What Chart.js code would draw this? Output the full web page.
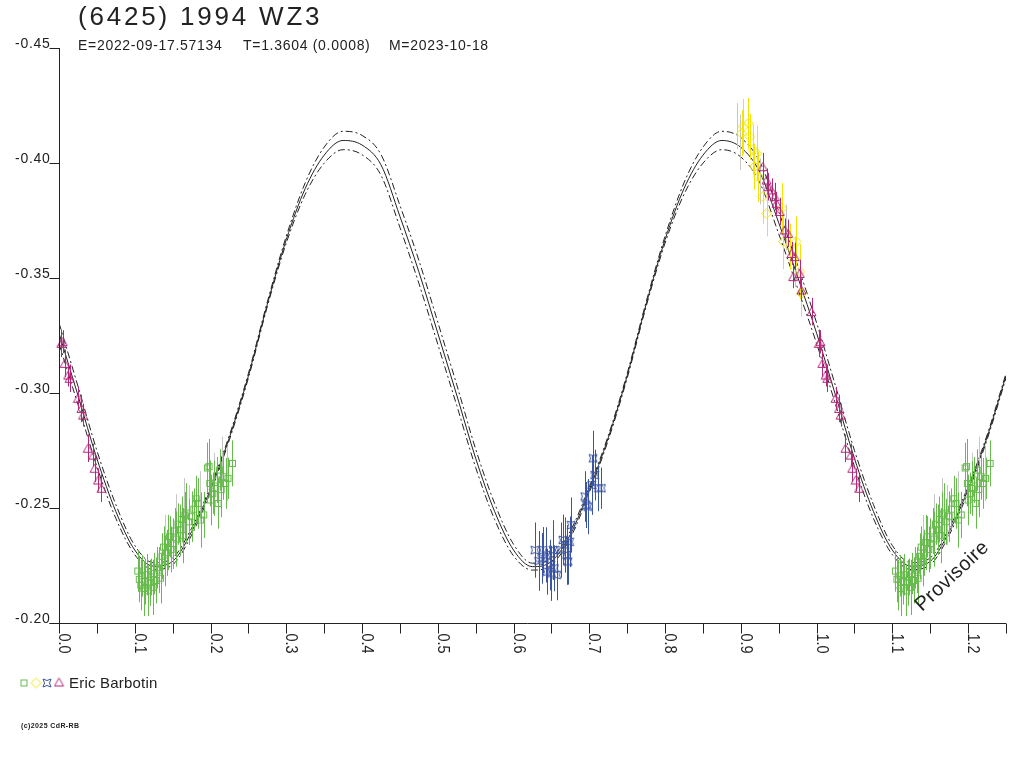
<!DOCTYPE html>
<html>
<head>
<meta charset="utf-8">
<title>(6425) 1994 WZ3</title>
<script src="https://cdn.jsdelivr.net/npm/chart.js@4.4.1/dist/chart.umd.min.js"></script>
<style>
    html, body { margin: 0; padding: 0; background: #ffffff; }
    #wrap { width: 1024px; height: 768px; }
</style>
</head>
<body>
<div id="wrap"><canvas id="lightcurve" width="1024" height="768"></canvas></div>
<script>
// ===============================
// DATA
// ===============================

const TITLE = "(6425) 1994 WZ3";

const SUBTITLE_PARTS = [
    "E=2022-09-17.57134",
    "T=1.3604 (0.0008)",
    "M=2023-10-18"
];

const OBSERVER = "Eric Barbotin";

const Y_TICKS = [-0.45, -0.40, -0.35, -0.30, -0.25, -0.20];

const Y_TICK_LABELS = ["-0.45", "-0.40", "-0.35", "-0.30", "-0.25", "-0.20"];

const X_MAJOR_TICKS = [0.0, 0.1, 0.2, 0.3, 0.4, 0.5, 0.6, 0.7, 0.8, 0.9, 1.0, 1.1, 1.2];

const X_MAJOR_LABELS = ["0.0", "0.1", "0.2", "0.3", "0.4", "0.5", "0.6", "0.7", "0.8", "0.9", "1.0", "1.1", "1.2"];

const X_MINOR_TICKS = [0.05, 0.15, 0.25, 0.35, 0.45, 0.55, 0.65, 0.75, 0.85, 0.95, 1.05, 1.15, 1.25];

// model curve (phase grid + three curves)
const MODEL_PHASE = [
    0.000, 0.025, 0.050, 0.075, 0.100, 0.125, 0.150, 0.175, 0.200, 0.225,
    0.250, 0.275, 0.300, 0.325, 0.350, 0.375, 0.400, 0.425, 0.450, 0.475,
    0.500, 0.525, 0.550, 0.575, 0.600, 0.625, 0.650, 0.675, 0.700, 0.725,
    0.750, 0.775, 0.800, 0.825, 0.850, 0.875, 0.900, 0.925, 0.950, 0.975,
    1.000, 1.025, 1.050, 1.075, 1.100, 1.125, 1.150, 1.175, 1.200, 1.225,
    1.250
];

const MODEL_MID = [
    -0.3260, -0.2990, -0.2715, -0.2485, -0.2317, -0.2247, -0.2268, -0.2397, -0.2582, -0.2807,
    -0.3075, -0.3386, -0.3667, -0.3889, -0.4034, -0.4098, -0.4078, -0.3992, -0.3768, -0.3527,
    -0.3260, -0.2991, -0.2716, -0.2485, -0.2317, -0.2245, -0.2268, -0.2385, -0.2580, -0.2805,
    -0.3075, -0.3386, -0.3667, -0.3889, -0.4034, -0.4098, -0.4068, -0.3960, -0.3740, -0.3505,
    -0.3260, -0.2990, -0.2715, -0.2485, -0.2317, -0.2247, -0.2268, -0.2397, -0.2582, -0.2807,
    -0.3075
];

const MODEL_HIGH = [
    -0.3305, -0.3030, -0.2750, -0.2515, -0.2337, -0.2262, -0.2283, -0.2412, -0.2594, -0.2817,
    -0.3085, -0.3396, -0.3682, -0.3914, -0.4069, -0.4138, -0.4120, -0.4037, -0.3816, -0.3577,
    -0.3308, -0.3036, -0.2756, -0.2520, -0.2342, -0.2260, -0.2283, -0.2400, -0.2592, -0.2815,
    -0.3085, -0.3396, -0.3682, -0.3914, -0.4069, -0.4138, -0.4110, -0.4005, -0.3788, -0.3555,
    -0.3305, -0.3030, -0.2750, -0.2515, -0.2337, -0.2262, -0.2283, -0.2412, -0.2594, -0.2817,
    -0.3085
];

const MODEL_LOW = [
    -0.3215, -0.2950, -0.2680, -0.2455, -0.2297, -0.2232, -0.2253, -0.2382, -0.2570, -0.2797,
    -0.3065, -0.3376, -0.3652, -0.3864, -0.3999, -0.4058, -0.4036, -0.3947, -0.3720, -0.3477,
    -0.3212, -0.2946, -0.2676, -0.2450, -0.2292, -0.2230, -0.2253, -0.2370, -0.2568, -0.2795,
    -0.3065, -0.3376, -0.3652, -0.3864, -0.3999, -0.4058, -0.4026, -0.3915, -0.3692, -0.3455,
    -0.3215, -0.2950, -0.2680, -0.2455, -0.2297, -0.2232, -0.2253, -0.2382, -0.2570, -0.2797,
    -0.3065
];

// session 1 (green squares)
const GREEN_PHASE = [
    0.104, 0.106, 0.108, 0.110, 0.112, 0.114, 0.116, 0.118, 0.120, 0.122,
    0.124, 0.126, 0.128, 0.130, 0.132, 0.134, 0.136, 0.138, 0.140, 0.142,
    0.144, 0.146, 0.148, 0.150, 0.153, 0.155, 0.157, 0.160, 0.162, 0.164,
    0.166, 0.168, 0.171, 0.175, 0.178, 0.181, 0.184, 0.187, 0.191, 0.196,
    0.198, 0.199, 0.200, 0.203, 0.205, 0.208, 0.210, 0.212, 0.214, 0.217,
    0.220, 0.223, 0.229
];

const GREEN_MAG = [
    -0.2226, -0.2190, -0.2165, -0.2205, -0.2150, -0.2180, -0.2210, -0.2140, -0.2175, -0.2200,
    -0.2155, -0.2215, -0.2185, -0.2240, -0.2230, -0.2195, -0.2290, -0.2330, -0.2270, -0.2305,
    -0.2350, -0.2375, -0.2320, -0.2345, -0.2400, -0.2365, -0.2430, -0.2405, -0.2450, -0.2380,
    -0.2470, -0.2478, -0.2440, -0.2462, -0.2495, -0.2540, -0.2520, -0.2448, -0.2470, -0.2674,
    -0.2680, -0.2607, -0.2535, -0.2564, -0.2585, -0.2622, -0.2520, -0.2665, -0.2580, -0.2636,
    -0.2607, -0.2629, -0.2694
];

const GREEN_ERR = [
    0.009, 0.010, 0.011, 0.009, 0.012, 0.010, 0.009, 0.011, 0.010, 0.008,
    0.012, 0.009, 0.010, 0.009, 0.010, 0.011, 0.010, 0.009, 0.011, 0.010,
    0.012, 0.009, 0.010, 0.011, 0.010, 0.012, 0.009, 0.011, 0.010, 0.012,
    0.010, 0.013, 0.010, 0.011, 0.009, 0.010, 0.011, 0.012, 0.010, 0.011,
    0.012, 0.010, 0.011, 0.009, 0.012, 0.010, 0.011, 0.009, 0.012, 0.010,
    0.011, 0.009, 0.010
];

// session 2 (yellow diamonds)
const YELLOW_PHASE = [
    0.901, 0.903, 0.910, 0.912, 0.916, 0.918, 0.921, 0.923, 0.929, 0.934,
    0.954, 0.956, 0.965, 0.973, 0.978, 0.980
];

const YELLOW_MAG = [
    -0.4129, -0.4158, -0.4173, -0.4114, -0.4057, -0.3984, -0.4042, -0.3940, -0.3854, -0.3781,
    -0.3803, -0.3658, -0.3636, -0.3658, -0.3527, -0.3433
];

const YELLOW_ERR = [
    0.010, 0.012, 0.011, 0.010, 0.011, 0.010, 0.012, 0.011, 0.012, 0.010,
    0.011, 0.012, 0.010, 0.011, 0.012, 0.010
];

// session 3 (blue stars)
const BLUE_PHASE = [
    0.628, 0.633, 0.637, 0.639, 0.643, 0.644, 0.648, 0.650, 0.652, 0.654,
    0.657, 0.663, 0.665, 0.668, 0.670, 0.672, 0.674, 0.676, 0.694, 0.696,
    0.698, 0.703, 0.705, 0.707, 0.712, 0.716
];

const BLUE_MAG = [
    -0.2317, -0.2270, -0.2281, -0.2317, -0.2296, -0.2223, -0.2252, -0.2216, -0.2317, -0.2238,
    -0.2209, -0.2317, -0.2361, -0.2339, -0.2296, -0.2267, -0.2353, -0.2426, -0.2550, -0.2513,
    -0.2506, -0.2600, -0.2716, -0.2643, -0.2586, -0.2586
];

const BLUE_ERR = [
    0.012, 0.013, 0.011, 0.010, 0.012, 0.010, 0.011, 0.012, 0.013, 0.010,
    0.011, 0.012, 0.011, 0.012, 0.013, 0.010, 0.011, 0.012, 0.011, 0.010,
    0.012, 0.013, 0.012, 0.011, 0.010, 0.009
];

// session 4 (magenta triangles)
const MAGENTA_PHASE = [
    0.003, 0.005, 0.0075, 0.012, 0.014, 0.025, 0.0296, 0.0317, 0.038, 0.045,
    0.047, 0.0515, 0.056, 0.929, 0.934, 0.936, 0.9405, 0.945, 0.947, 0.9514,
    0.958, 0.9624, 0.967, 0.969, 0.9712, 0.9778, 0.980, 0.9933
];

const MAGENTA_MAG = [
    -0.3216, -0.3223, -0.3129, -0.3078, -0.3064, -0.2977, -0.2933, -0.2904, -0.2760, -0.2730,
    -0.2673, -0.2622, -0.2586, -0.3984, -0.3926, -0.3897, -0.3883, -0.3854, -0.3825, -0.3789,
    -0.3709, -0.3694, -0.3607, -0.3506, -0.3593, -0.3520, -0.3448, -0.3354
];

const MAGENTA_ERR = [
    0.006, 0.005, 0.006, 0.005, 0.006, 0.005, 0.006, 0.005, 0.006, 0.005,
    0.006, 0.005, 0.006, 0.006, 0.005, 0.006, 0.005, 0.006, 0.005, 0.006,
    0.005, 0.006, 0.005, 0.005, 0.006, 0.006, 0.005, 0.006
];

// light grey error bars
const GREY_PHASE = [
    0.140, 0.155, 0.165, 0.172, 0.186, 0.205, 0.215, 0.222, 0.895, 0.899,
    0.925, 0.960, 0.972
];

const GREY_MAG = [
    -0.2360, -0.2440, -0.2510, -0.2470, -0.2550, -0.2620, -0.2700, -0.2650, -0.4160, -0.4090,
    -0.3920, -0.3720, -0.3570
];

const GREY_ERR = [
    0.011, 0.012, 0.012, 0.013, 0.011, 0.012, 0.011, 0.012, 0.010, 0.012,
    0.010, 0.010, 0.011
];

// ===============================
// COLOURS
// ===============================

const INK = "#222222";
const GREEN = "#66bb4c";
const YELLOW = "#f2e400";
const BLUE = "#3a55a4";
const MAGENTA = "#b4287a";
const GREY = "#c6c6c6";

const FONT = "'Liberation Sans', Arial, sans-serif";

// ===============================
// HELPERS
// ===============================

// points before phase 0.25 are shown a second time after 1.0
function foldPoints(phases, mags, errs) {

    const pts = [];

    phases.forEach((p, i) => {

        pts.push({ x: p, y: mags[i], e: errs[i] });

        if (p + 1 <= 1.25) {
            pts.push({ x: p + 1, y: mags[i], e: errs[i] });
        }
    });

    return pts;
}

function curvePoints(values) {

    return MODEL_PHASE.map((p, i) => ({ x: p, y: values[i] }));
}

function makeMarker(size, draw) {

    const c = document.createElement("canvas");

    c.width = size;
    c.height = size;

    const g = c.getContext("2d");

    g.lineWidth = 1;

    draw(g);

    return c;
}

const squareMarker = makeMarker(9, g => {
    g.strokeStyle = GREEN;
    g.strokeRect(1.5, 1.5, 6, 6);
});

const diamondMarker = makeMarker(13, g => {
    g.strokeStyle = YELLOW;
    g.beginPath();
    g.moveTo(6.5, 1.5);
    g.lineTo(11.5, 6.5);
    g.lineTo(6.5, 11.5);
    g.lineTo(1.5, 6.5);
    g.closePath();
    g.stroke();
});

const starMarker = makeMarker(10, g => {
    g.strokeStyle = BLUE;
    g.beginPath();
    g.moveTo(1, 1);
    g.quadraticCurveTo(5, 4, 9, 1);
    g.quadraticCurveTo(6, 5, 9, 9);
    g.quadraticCurveTo(5, 6, 1, 9);
    g.quadraticCurveTo(4, 5, 1, 1);
    g.closePath();
    g.stroke();
});

const triangleMarker = makeMarker(11, g => {
    g.strokeStyle = MAGENTA;
    g.beginPath();
    g.moveTo(5.5, 1.5);
    g.lineTo(10, 9.5);
    g.lineTo(1, 9.5);
    g.closePath();
    g.stroke();
});

function spacedText(ctx, text, x, y, spacing) {

    if ("letterSpacing" in ctx) {
        ctx.letterSpacing = spacing + "px";
    }

    ctx.fillText(text, x, y);

    if ("letterSpacing" in ctx) {
        ctx.letterSpacing = "0px";
    }
}

// =================================
// ERROR BARS (drawn under each set)
// =================================

const errorBars = {

    id: "errorBars",

    beforeDatasetDraw(chart, args) {

        const ds = chart.data.datasets[args.index];

        if (!ds.errColor) return;

        const ctx = chart.ctx;
        const xs = chart.scales.x;
        const ys = chart.scales.y;

        ctx.save();
        ctx.strokeStyle = ds.errColor;
        ctx.lineWidth = 1;
        ctx.beginPath();

        ds.data.forEach(pt => {

            const px = Math.round(xs.getPixelForValue(pt.x)) + 0.5;

            ctx.moveTo(px, ys.getPixelForValue(pt.y - pt.e));
            ctx.lineTo(px, ys.getPixelForValue(pt.y + pt.e));
        });

        ctx.stroke();
        ctx.restore();
    }
};

// =================================
// AXES, TITLES, LEGEND
// =================================

const frame = {

    id: "frame",

    afterDraw(chart) {

        const ctx = chart.ctx;
        const xs = chart.scales.x;
        const ys = chart.scales.y;
        const area = chart.chartArea;

        ctx.save();

        ctx.strokeStyle = INK;
        ctx.fillStyle = INK;
        ctx.lineWidth = 1;

        // axis lines
        const ax = Math.round(area.left) + 0.5;
        const ay = Math.round(area.bottom) + 0.5;

        ctx.beginPath();
        ctx.moveTo(ax, area.top);
        ctx.lineTo(ax, ay);
        ctx.moveTo(ax - 10, ay);
        ctx.lineTo(area.right, ay);
        ctx.stroke();

        // y ticks + labels
        ctx.font = "14px " + FONT;
        ctx.textAlign = "right";
        ctx.textBaseline = "alphabetic";

        Y_TICKS.forEach((v, i) => {

            const py = Math.round(ys.getPixelForValue(v)) + 0.5;

            ctx.beginPath();
            ctx.moveTo(ax - 10, py);
            ctx.lineTo(ax, py);
            ctx.stroke();

            spacedText(ctx, Y_TICK_LABELS[i], ax - 9, py - 0.5, 0.7);
        });

        // x ticks
        ctx.beginPath();

        X_MAJOR_TICKS.concat(X_MINOR_TICKS).forEach(v => {

            const px = Math.round(xs.getPixelForValue(v)) + 0.5;

            ctx.moveTo(px, ay);
            ctx.lineTo(px, ay + 10);
        });

        ctx.stroke();

        // x labels, turned a quarter clockwise
        ctx.font = "16px " + FONT;
        ctx.textAlign = "left";

        X_MAJOR_TICKS.forEach((v, i) => {

            const px = Math.round(xs.getPixelForValue(v));

            ctx.save();
            ctx.translate(px, ay + 10);
            ctx.rotate(Math.PI / 2);
            ctx.scale(0.9, 1);
            ctx.fillText(X_MAJOR_LABELS[i], 0, 0);
            ctx.restore();
        });

        // title
        ctx.font = "26px " + FONT;
        spacedText(ctx, TITLE, 78, 25, 2.8);

        // subtitle
        ctx.font = "14px " + FONT;
        spacedText(ctx, SUBTITLE_PARTS[0], 78, 50, 0.7);
        spacedText(ctx, SUBTITLE_PARTS[1], 243, 50, 0.7);
        spacedText(ctx, SUBTITLE_PARTS[2], 389, 50, 0.7);

        // legend
        ctx.drawImage(squareMarker, 24 - 4.5, 683 - 4.5);
        ctx.drawImage(diamondMarker, 36 - 6.5, 683 - 6.5);
        ctx.drawImage(starMarker, 47 - 5, 683 - 5);
        ctx.drawImage(triangleMarker, 59 - 5.5, 682 - 5.5);

        ctx.font = "15px " + FONT;
        spacedText(ctx, OBSERVER, 69, 688, 0.2);

        // provisional stamp
        ctx.save();
        ctx.translate(922, 612);
        ctx.rotate(-43 * Math.PI / 180);
        ctx.font = "20px " + FONT;
        spacedText(ctx, "Provisoire", 0, 0, 0.4);
        ctx.restore();

        // copyright
        ctx.font = "bold 7px " + FONT;
        spacedText(ctx, "(c)2025 CdR-RB", 21, 728, 0.4);

        ctx.restore();
    }
};

// =================================
// CHART
// =================================

const modelLine = {
    showLine: true,
    borderColor: INK,
    borderWidth: 1,
    pointRadius: 0,
    cubicInterpolationMode: "monotone",
    fill: false,
    order: 10
};

new Chart(document.getElementById("lightcurve"), {

    type: "scatter",

    data: {

        datasets: [

            Object.assign({}, modelLine, {
                label: "model +",
                data: curvePoints(MODEL_HIGH),
                borderDash: [7, 3, 2, 3]
            }),

            Object.assign({}, modelLine, {
                label: "model",
                data: curvePoints(MODEL_MID)
            }),

            Object.assign({}, modelLine, {
                label: "model -",
                data: curvePoints(MODEL_LOW),
                borderDash: [7, 3, 2, 3]
            }),

            {
                label: "grey",
                data: foldPoints(GREY_PHASE, GREY_MAG, GREY_ERR),
                errColor: GREY,
                pointRadius: 0,
                clip: false,
                order: 8
            },

            {
                label: OBSERVER + " 1",
                data: foldPoints(GREEN_PHASE, GREEN_MAG, GREEN_ERR),
                errColor: GREEN,
                pointStyle: squareMarker,
                pointRadius: 4,
                clip: false,
                order: 4
            },

            {
                label: OBSERVER + " 2",
                data: foldPoints(YELLOW_PHASE, YELLOW_MAG, YELLOW_ERR),
                errColor: YELLOW,
                pointStyle: diamondMarker,
                pointRadius: 4,
                clip: false,
                order: 3
            },

            {
                label: OBSERVER + " 3",
                data: foldPoints(BLUE_PHASE, BLUE_MAG, BLUE_ERR),
                errColor: BLUE,
                pointStyle: starMarker,
                pointRadius: 4,
                clip: false,
                order: 2
            },

            {
                label: OBSERVER + " 4",
                data: foldPoints(MAGENTA_PHASE, MAGENTA_MAG, MAGENTA_ERR),
                errColor: MAGENTA,
                pointStyle: triangleMarker,
                pointRadius: 4,
                clip: false,
                order: 1
            }
        ]
    },

    options: {

        responsive: false,

        devicePixelRatio: 1,

        animation: false,

        layout: {
            padding: { left: 59, right: 18, top: 48, bottom: 145 }
        },

        plugins: {
            legend: { display: false },
            tooltip: { enabled: false }
        },

        scales: {

            x: {
                type: "linear",
                min: 0,
                max: 1.25,
                display: false
            },

            y: {
                type: "linear",
                min: -0.45,
                max: -0.20,
                reverse: true,
                display: false
            }
        }
    },

    plugins: [errorBars, frame]
});
</script>
</body>
</html>
